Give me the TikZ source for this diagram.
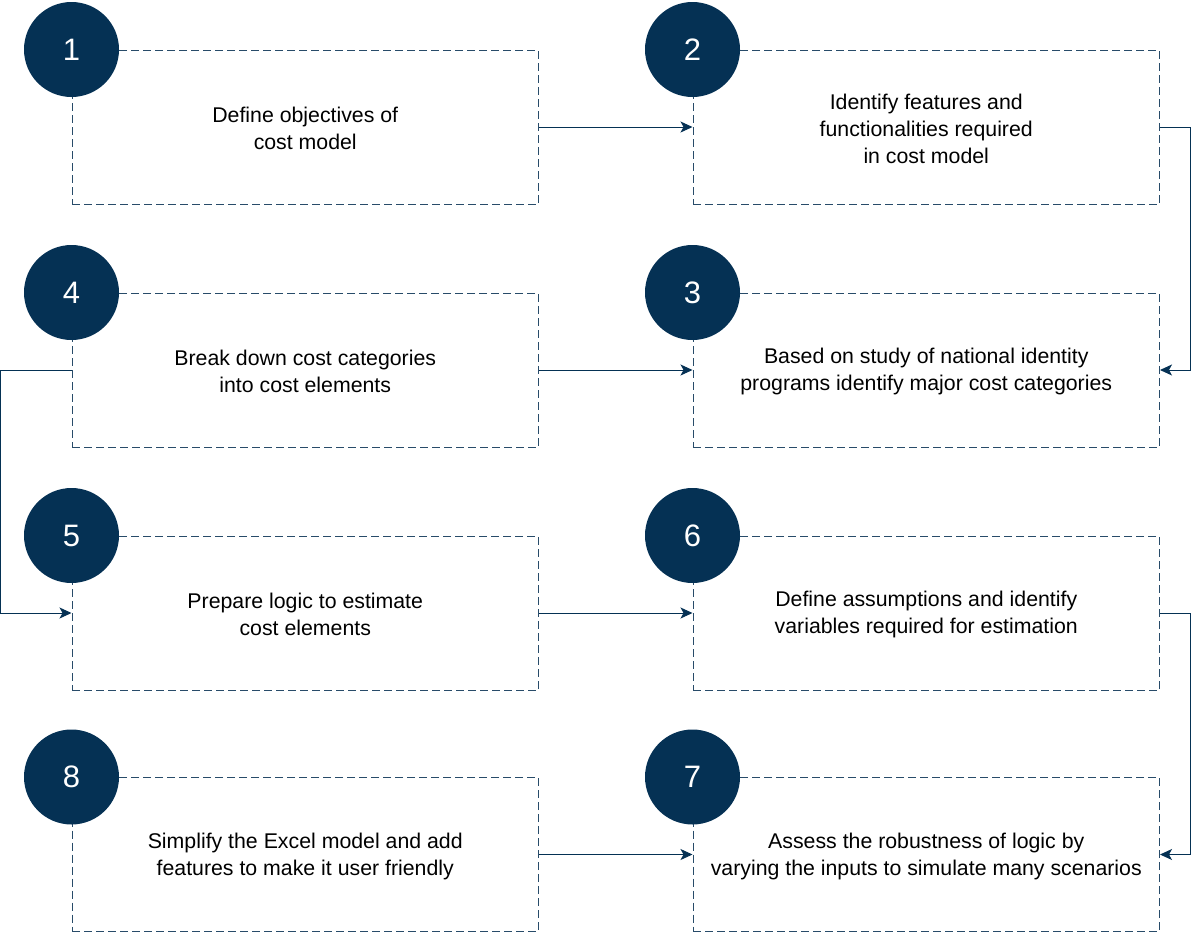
\documentclass[tikz,border=0pt]{standalone}
\usepackage{fontspec}
\setmainfont{Liberation Sans}
\usetikzlibrary{arrows.meta,calc}
\definecolor{navy}{RGB}{5,49,84}
\definecolor{dashc}{RGB}{40,75,105}
\begin{document}
\begin{tikzpicture}[x=1pt,y=-1pt,
  stepbox/.style={draw=dashc,line width=1pt,dash pattern=on 8pt off 4pt,minimum width=466.5pt,minimum height=154pt,anchor=north west,inner sep=0pt,
    align=center,font=\fontsize{21.3}{27}\selectfont,text=black},
  numcirc/.style={circle,fill=navy,minimum size=95pt,inner sep=0pt,text=white,font=\fontsize{31}{31}\selectfont},
  conn/.style={draw=navy,line width=1pt,-{Stealth[length=12pt,width=11pt,inset=3pt]}}]
\useasboundingbox (0,0) rectangle (1192,932);
% boxes
\node[stepbox] (b1) at (71.5,49.5) {\rule{0pt}{19pt}Define objectives of\\cost model};
\node[stepbox] (b2) at (692.5,49.5) {\rule{0pt}{19pt}Identify features and\\functionalities required\\in cost model};
\node[stepbox] (b4) at (71.5,292.5) {\rule{0pt}{19pt}Break down cost categories\\into cost elements};
\node[stepbox] (b3) at (692.5,292.5) {\rule{0pt}{19pt}Based on study of national identity\\programs identify major cost categories};
\node[stepbox] (b5) at (71.5,535.5) {\rule{0pt}{19pt}Prepare logic to estimate\\cost elements};
\node[stepbox] (b6) at (692.5,535.5) {\rule{0pt}{19pt}Define assumptions and identify\\variables required for estimation};
\node[stepbox] (b8) at (71.5,777) {\rule{0pt}{19pt}Simplify the Excel model and add\\features to make it user friendly};
\node[stepbox] (b7) at (692.5,777) {\rule{0pt}{19pt}Assess the robustness of logic by\\varying the inputs to simulate many scenarios};
% circles
\node[numcirc] (c1) at (b1.north west) {1};
\node[numcirc] (c2) at (b2.north west) {2};
\node[numcirc] (c4) at (b4.north west) {4};
\node[numcirc] (c3) at (b3.north west) {3};
\node[numcirc] (c5) at (b5.north west) {5};
\node[numcirc] (c6) at (b6.north west) {6};
\node[numcirc] (c8) at (b8.north west) {8};
\node[numcirc] (c7) at (b7.north west) {7};
% connectors
\coordinate (r1) at (1190,0);
\coordinate (l1) at (0.75,0);
\draw[conn] (b1.east) -- (b2.west);
\draw[conn] (b2.east) -- (b2.east -| r1) -- (b3.east -| r1) -- (b3.east);
\draw[conn] (b4.east) -- (b3.west);
\draw[conn] (b4.west) -- (b4.west -| l1) -- (b5.west -| l1) -- (b5.west);
\draw[conn] (b5.east) -- (b6.west);
\draw[conn] (b6.east) -- (b6.east -| r1) -- (b7.east -| r1) -- (b7.east);
\draw[conn] (b8.east) -- (b7.west);
\end{tikzpicture}
\end{document}
